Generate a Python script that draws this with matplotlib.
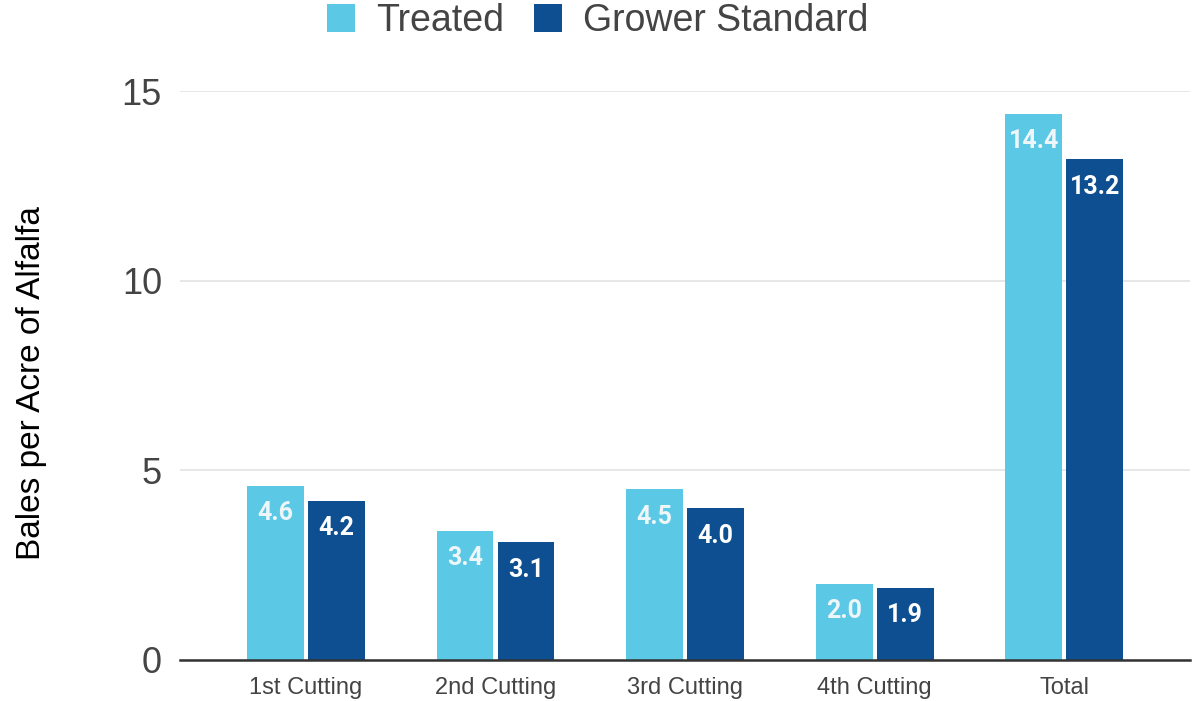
import matplotlib
matplotlib.use("Agg")
import matplotlib.pyplot as plt
import numpy as np
from matplotlib.patches import Patch

categories = ["1st Cutting", "2nd Cutting", "3rd Cutting", "4th Cutting", "Total"]
treated = [4.6, 3.4, 4.5, 2.0, 14.4]
grower_standard = [4.2, 3.1, 4.0, 1.9, 13.2]
series_names = ["Treated", "Grower Standard"]
y_ticks = [0, 5, 10, 15]

light_blue = "#5bc8e5"
dark_blue = "#0d4f90"

plt.rcParams["font.family"] = ["Liberation Sans", "DejaVu Sans"]

fig = plt.figure(figsize=(11.95, 7.01), dpi=100)
ax = fig.add_axes([0.1506, 0.0585, 0.8454, 0.8115])

x = np.arange(len(categories))
width = 0.30
offset = 0.161

bars_t = ax.bar(x - offset, treated, width, color=light_blue, zorder=3)
bars_g = ax.bar(x + offset, grower_standard, width, color=dark_blue, zorder=3)

for bars, vals, col in ((bars_t, treated, "#eef6f9"), (bars_g, grower_standard, "white")):
    for b, v in zip(bars, vals):
        ax.text(b.get_x() + b.get_width() / 2, v - 0.72, f"{v:.1f}",
                ha="center", va="center", color=col, fontsize=18,
                fontweight="bold", family=["Roboto", "DejaVu Sans"], zorder=4)

ax.set_xlim(-0.665, 4.665)
ax.set_ylim(0, 15)
ax.set_yticks(y_ticks)
ax.set_yticklabels([str(t) for t in y_ticks])
ax.set_xticks(x)
ax.set_xticklabels(categories)

ax.grid(axis="y", color="#e3e3e3", linewidth=1.2, zorder=0)
ax.set_axisbelow(True)
for s in ("top", "right", "left"):
    ax.spines[s].set_visible(False)
ax.spines["bottom"].set_color("#333333")
ax.spines["bottom"].set_linewidth(1.8)
ax.spines["bottom"].set_zorder(5)

ax.tick_params(axis="y", length=0, pad=13, labelsize=26, labelcolor="#444444")
ax.tick_params(axis="x", length=0, pad=12, labelsize=17, labelcolor="#444444")

fig.text(0.026, 0.454, "Bales per Acre of Alfalfa", rotation=90,
         ha="center", va="center", fontsize=24, color="black")

handles = [Patch(facecolor=light_blue, edgecolor="none"),
           Patch(facecolor=dark_blue, edgecolor="none")]
fig.legend(handles, series_names, loc="center", bbox_to_anchor=(0.5, 0.970),
           ncol=2, frameon=False, fontsize=27, labelcolor="#444444",
           handlelength=0.75, handleheight=0.75, handletextpad=0.55,
           columnspacing=0.8)

fig.savefig("out.png", dpi=100, facecolor="white")
